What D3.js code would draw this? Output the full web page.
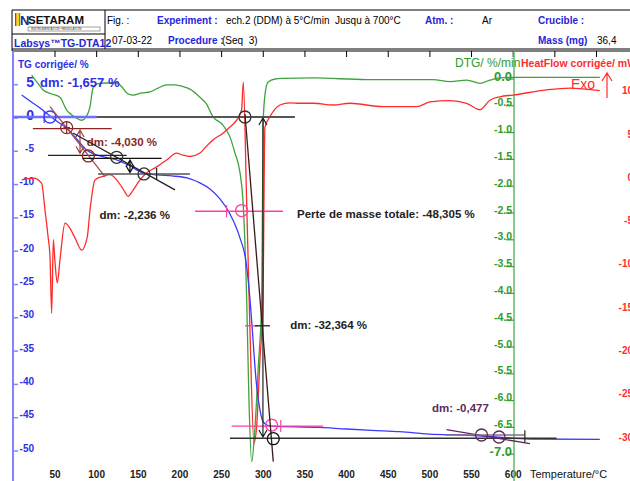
<!DOCTYPE html>
<html>
<head>
<meta charset="utf-8">
<script src="https://cdn.jsdelivr.net/npm/d3@7"></script>
<style>
  body { margin: 0; background: #fff; }
  svg { display: block; font-family: Arial, "Liberation Sans", sans-serif; }
</style>
</head>
<body>
<svg id="chart" width="630" height="481"></svg>
<script>
// TG (mass loss, %)
const tgTemp  = [10, 20, 32, 44, 53.5, 64, 74, 88, 104, 124, 140, 155.6, 172.4, 190.4, 208.4, 224, 236, 248, 260, 272, 279.3, 284.1, 287.7, 291.3, 296, 299.7, 304.4, 310.4, 368, 400, 430, 464, 503.7, 524, 564, 620, 704]
const tgValue = [3.45, 2.55, 1.5, 0.3, -0.6, -1.5, -2.85, -4.8, -5.7, -6.3, -7.2, -8.25, -8.55, -8.7, -9.0, -9.75, -10.65, -12.15, -14.4, -18.0, -21.6, -27.3, -33.3, -39.3, -43.8, -45.6, -46.1, -46.25, -46.45, -46.7, -46.9, -47.1, -47.5, -47.55, -47.75, -48.2, -48.25]

// DTG (%/min), green curve
const dtgTemp  = [22, 28.3, 35.5, 46.3, 55.9, 64, 70.3, 76, 82, 87.2, 92, 95.6, 100.4, 111.2, 124, 130.4, 136, 143.6, 154.4, 164, 173.6, 184, 194, 203.6, 212, 224, 231.2, 239.6, 251.6, 260, 266, 272.1, 275.6, 280.1, 282.8, 286.1, 290.1, 294, 298.1, 299.1, 300, 302, 305.6, 314, 323.6, 359.7, 424, 503.7, 524.2, 544.2, 560.2, 572.2, 584.2, 599.8, 620, 704]
const dtgValue = [0.07, -0.06, -0.2, -0.28, -0.34, -0.58, -0.67, -0.73, -0.77, -0.71, -0.52, -0.17, -0.09, -0.075, -0.075, -0.15, -0.26, -0.3, -0.26, -0.24, -0.17, -0.11, -0.11, -0.14, -0.19, -0.34, -0.45, -0.7, -0.86, -1.08, -1.38, -1.75, -2.26, -4.12, -5.99, -7.14, -6.49, -5.37, -4.12, -2.26, -0.77, -0.3, -0.06, 0.0, 0.01, 0.02, -0.01, -0.01, -0.05, -0.02, -0.08, -0.02, 0.02, 0.03, 0.03, 0.03]

// Heat flow (mW), red curve
const hfTemp  = [10, 24, 34, 38, 41.5, 44, 46, 48, 50, 52.7, 56, 62, 68, 74, 82, 88.7, 92, 98, 107.6, 116, 124, 130, 134, 137.6, 143.6, 152, 160, 172, 184, 196, 202.4, 212, 224, 230, 239.6, 251.6, 260, 268, 274, 276, 280, 284, 288.8, 292, 296, 299.6, 302, 308, 320, 332, 344, 360, 384, 404, 444, 484, 500, 524, 544, 560, 572, 584, 600, 640, 668, 704]
const hfValue = [-0.3, -0.1, -0.7, -3.8, -6.7, -9.2, -15.7, -7.2, -9.8, -12.2, -9.5, -5.3, -5.9, -7.0, -8.4, -6.9, -3.8, -0.3, 0.1, 0.3, -0.3, -1.1, -1.7, -2.2, -1.5, -0.3, 0.5, 1.2, 2.0, 2.8, 2.6, 2.4, 2.8, 3.4, 4.3, 5.1, 5.8, 6.6, 7.8, 11.0, -2.6, -17.6, -30.7, -28.8, -21.1, -14.2, 5.8, 7.0, 8.35, 8.6, 8.55, 8.55, 8.35, 8.55, 8.15, 8.15, 8.7, 8.85, 8.55, 7.8, 8.9, 9.3, 9.5, 10.1, 10.3, 10.0]

const tempTicks = [50, 100, 150, 200, 250, 300, 350, 400, 450, 500, 550, 600]
const topTicks = [50, 100, 150, 200, 250, 300, 350, 400, 450, 500, 550, 600, 650, 700]
const tgTicks = [5, 0, -5, -10, -15, -20, -25, -30, -35, -40, -45, -50]
const dtgTicks = [0, -0.5, -1, -1.5, -2, -2.5, -3, -3.5, -4, -4.5, -5, -5.5, -6, -6.5, -7]
const hfTicks = [10, 5, 0, -5, -10, -15, -20, -25, -30]

const BLUE = '#3a3aff'
const GREEN = '#3ea33e'
const RED = '#ff2b2b'
const DARKRED = '#8e2424'
const PURPLE = '#5c2a5c'
const PINK = '#ff40a0'
const GREY = '#555555'

const svg = d3.select('#chart')

const x = d3.scaleLinear().domain([50, 600]).range([55, 513.2])
const yTG = d3.scaleLinear().domain([0, -50]).range([118, 451])
const yDTG = d3.scaleLinear().domain([0, -7]).range([79, 454.2])
const yHF = d3.scaleLinear().domain([10, -30]).range([90.7, 437.1])

// ---------- header block ----------
function drawHeader () {
  const h = svg.append('g')
  h.append('line').attr('x1', 12).attr('x2', 630).attr('y1', 10).attr('y2', 10).attr('stroke', '#000')
  h.append('line').attr('x1', 12).attr('x2', 630).attr('y1', 49).attr('y2', 49).attr('stroke', '#000')
  h.append('line').attr('x1', 12).attr('x2', 630).attr('y1', 51).attr('y2', 51).attr('stroke', '#000')
  h.append('line').attr('x1', 12).attr('x2', 12).attr('y1', 10).attr('y2', 51).attr('stroke', '#000')
  h.append('line').attr('x1', 105).attr('x2', 105).attr('y1', 10).attr('y2', 49).attr('stroke', '#000')
  h.append('line').attr('x1', 12).attr('x2', 105).attr('y1', 34).attr('y2', 34).attr('stroke', '#000')

  // logo
  const stripes = ['#e0262a', '#f5a000', '#f2e200', '#28a745']
  stripes.forEach((c, i) => {
    h.append('rect').attr('x', 15 + i * 1.3).attr('y', 13).attr('width', 1.3).attr('height', 13).attr('fill', c)
  })
  h.append('text').attr('x', 20).attr('y', 25).attr('font-size', 13).attr('font-weight', 'bold')
    .attr('fill', '#1b2f86').text('N')
  h.append('text').attr('x', 28).attr('y', 24).attr('font-size', 11.5).attr('font-weight', 'bold')
    .attr('fill', '#111').text('SETARAM')
  h.append('rect').attr('x', 28).attr('y', 27).attr('width', 72).attr('height', 4)
    .attr('fill', 'none').attr('stroke', '#444').attr('stroke-width', 0.5)
  h.append('text').attr('x', 31).attr('y', 30.3).attr('font-size', 3).attr('fill', '#333')
    .text('INSTRUMENTATION • REGULATION')

  h.append('text').attr('x', 14).attr('y', 47).attr('font-size', 10.5).attr('font-weight', 'bold')
    .attr('fill', '#2828d0').text('Labsys™TG-DTA12')

  const row1 = [
    [107, 'Fig. :', '#000', 'normal'],
    [157, 'Experiment :', '#2424d8', 'bold'],
    [226, 'ech.2 (DDM) à 5°C/min  Jusqu à 700°C', '#000', 'normal'],
    [425, 'Atm. :', '#2424d8', 'bold'],
    [482, 'Ar', '#000', 'normal'],
    [538, 'Crucible :', '#2424d8', 'bold']
  ]
  row1.forEach(r => {
    h.append('text').attr('x', r[0]).attr('y', 24).attr('font-size', 10).attr('font-weight', r[3])
      .attr('fill', r[2]).style('white-space', 'pre').text(r[1])
  })
  const row2 = [
    [112, '07-03-22', '#000', 'normal'],
    [168, 'Procedure :', '#2424d8', 'bold'],
    [222, '(Seq  3)', '#000', 'normal'],
    [538, 'Mass (mg)', '#2424d8', 'bold'],
    [597, '36,4', '#000', 'normal']
  ]
  row2.forEach(r => {
    h.append('text').attr('x', r[0]).attr('y', 44).attr('font-size', 10).attr('font-weight', r[3])
      .attr('fill', r[2]).style('white-space', 'pre').text(r[1])
  })
}

// ---------- axes ----------
function drawAxes () {
  const g = svg.append('g')

  // top tick marks
  g.selectAll('.top-tick').data(topTicks).enter().append('line')
    .attr('x1', d => x(d)).attr('x2', d => x(d)).attr('y1', 51).attr('y2', 57)
    .attr('stroke', '#000')

  // temperature labels (bottom)
  g.selectAll('.x-label').data(tempTicks).enter().append('text')
    .attr('x', d => x(d)).attr('y', 478).attr('text-anchor', 'middle')
    .attr('font-size', 10).attr('font-weight', 'bold').attr('fill', '#222').text(d => d)
  g.append('text').attr('x', 530).attr('y', 478).attr('font-size', 11).attr('fill', '#111')
    .text('Temperature/°C')

  // TG axis (left, blue)
  g.append('line').attr('x1', 13).attr('x2', 13).attr('y1', 51).attr('y2', 481)
    .attr('stroke', '#8383ff').attr('stroke-width', 2)
  g.selectAll('.tg-tick').data(tgTicks).enter().append('line')
    .attr('x1', 13).attr('x2', 18).attr('y1', d => yTG(d)).attr('y2', d => yTG(d))
    .attr('stroke', '#8383ff').attr('stroke-width', 1.5)
  g.selectAll('.tg-label').data(tgTicks).enter().append('text')
    .attr('x', 34).attr('y', d => yTG(d) - 3).attr('dy', '0.35em').attr('text-anchor', 'end')
    .attr('font-size', d => d >= 0 ? 14 : 10).attr('font-weight', 'bold').attr('fill', '#2e2ee6')
    .text(d => d)
  g.append('text').attr('x', 18).attr('y', 68).attr('font-size', 10).attr('font-weight', 'bold')
    .attr('fill', '#2e2ee6').text('TG corrigée/ %')

  // DTG axis (green)
  g.append('line').attr('x1', 514).attr('x2', 514).attr('y1', 51).attr('y2', 481)
    .attr('stroke', '#63b863').attr('stroke-width', 1.5)
  g.selectAll('.dtg-tick').data(dtgTicks).enter().append('line')
    .attr('x1', 506).attr('x2', 514).attr('y1', d => yDTG(d)).attr('y2', d => yDTG(d))
    .attr('stroke', GREEN).attr('stroke-width', 1.2)
  g.selectAll('.dtg-label').data(dtgTicks).enter().append('text')
    .attr('x', 512).attr('y', d => yDTG(d) - 3).attr('dy', '0.35em').attr('text-anchor', 'end')
    .attr('font-size', d => (d === 0 || d === -7) ? 13 : 10.5).attr('font-weight', 'bold')
    .attr('fill', '#2f9a2f').text(d => d.toFixed(1))
  g.append('text').attr('x', 455).attr('y', 67).attr('font-size', 12)
    .attr('fill', '#2f9a2f').text('DTG/ %/min')

  // heat flow axis (red, cut at the right edge)
  g.selectAll('.hf-label').data(hfTicks).enter().append('text')
    .attr('x', 633).attr('y', d => yHF(d)).attr('dy', '0.35em').attr('text-anchor', 'end')
    .attr('font-size', 10).attr('font-weight', 'bold').attr('fill', RED).text(d => d)
  g.append('text').attr('x', 521).attr('y', 67).attr('font-size', 10.5).attr('font-weight', 'bold')
    .attr('fill', RED).text('HeatFlow corrigée/ mW')

  // Exo arrow
  g.append('text').attr('x', 571).attr('y', 89).attr('font-size', 14).attr('fill', RED).text('Exo')
  g.append('path').attr('d', 'M607,98 L607,73 M602,81 L607,73 L612,81')
    .attr('fill', 'none').attr('stroke', RED).attr('stroke-width', 1.2)
}

// ---------- curves ----------
function drawCurves () {
  const g = svg.append('g')
  const makeLine = (ys, temps, vals) => d3.line()
    .curve(d3.curveMonotoneX)
    .x((d, i) => x(temps[i]))
    .y((d, i) => ys(vals[i]))

  g.append('path').datum(dtgValue)
    .attr('fill', 'none').attr('stroke', GREEN).attr('stroke-width', 1.3)
    .attr('d', makeLine(yDTG, dtgTemp, dtgValue))

  g.append('path').datum(hfValue)
    .attr('fill', 'none').attr('stroke', RED).attr('stroke-width', 1.3)
    .attr('d', makeLine(yHF, hfTemp, hfValue))

  g.append('path').datum(tgValue)
    .attr('fill', 'none').attr('stroke', BLUE).attr('stroke-width', 1.3)
    .attr('d', makeLine(yTG, tgTemp, tgValue))
}

// ---------- step analysis marks (drawn in TG units) ----------
function drawAnnotations () {
  const g = svg.append('g')

  function seg (t1, v1, t2, v2, color, w) {
    g.append('line').attr('x1', x(t1)).attr('y1', yTG(v1)).attr('x2', x(t2)).attr('y2', yTG(v2))
      .attr('stroke', color).attr('stroke-width', w || 1.3)
  }
  function ring (t, v, color) {
    g.append('circle').attr('cx', x(t)).attr('cy', yTG(v)).attr('r', 6)
      .attr('fill', 'none').attr('stroke', color).attr('stroke-width', 1.3)
  }
  function vtick (t, v, color) {
    g.append('line').attr('x1', x(t)).attr('x2', x(t)).attr('y1', yTG(v) - 6).attr('y2', yTG(v) + 6)
      .attr('stroke', color).attr('stroke-width', 1.2)
  }
  function dblArrow (t, v1, v2, color) {
    const px = x(t), a = yTG(v1), b = yTG(v2)
    g.append('path')
      .attr('d', `M${px},${a} L${px},${b} M${px - 4},${a + 7} L${px},${a} L${px + 4},${a + 7} M${px - 4},${b - 7} L${px},${b} L${px + 4},${b - 7}`)
      .attr('fill', 'none').attr('stroke', color).attr('stroke-width', 1.2)
  }
  function label (t, v, txt, color, size) {
    g.append('text').attr('x', x(t)).attr('y', yTG(v)).attr('dy', '0.35em')
      .attr('font-size', size || 11.5).attr('font-weight', 'bold').attr('fill', color).text(txt)
  }

  // first step (blue)
  seg(20, 0.15, 338, 0.15, GREY, 2)
  seg(0, 0.15, 100, 0.15, '#6f6fff', 2.5)
  vtick(37, 0.15, BLUE)
  ring(44, 0.15, BLUE)
  label(32, 5.4, 'dm: -1,657 %', '#2e2ee6', 13)

  // second step (dark red)
  seg(23.5, -1.6, 118, -1.6, DARKRED)
  seg(41.5, -5.6, 136, -5.6, '#222')
  seg(44, 1.7, 110, -8.8, '#a05050')
  ring(64, -1.45, DARKRED)
  seg(60, -1.45, 68, -1.45, DARKRED)
  vtick(64, -1.45, DARKRED)
  ring(90, -5.7, DARKRED)
  dblArrow(80, -1.8, -5.3, '#a04040')
  label(88, -3.55, 'dm: -4,030 %', DARKRED, 11.5)

  // third step (black)
  seg(83.5, -6.05, 178, -6.05, '#111')
  seg(101.6, -8.4, 212, -8.4, GREY, 1.6)
  seg(71.5, -2.25, 194, -10.8, '#222')
  ring(124, -5.9, '#333')
  ring(156.8, -8.4, '#333')
  vtick(172, -8.4, '#222')
  dblArrow(140, -6.3, -8.2, '#111')
  label(103.5, -14.6, 'dm: -2,236 %', '#222', 11.5)

  // total mass loss (pink)
  seg(218, -14, 323.6, -14, PINK)
  vtick(256, -14, PINK)
  ring(274, -13.9, PINK)
  seg(262, -46.25, 372, -46.25, PINK)
  ring(310, -46.1, PINK)
  vtick(321, -46.25, PINK)
  seg(278, -31.2, 294, -31.2, PINK)
  label(340.5, -14.4, 'Perte de masse totale: -48,305 %', '#222', 11.5)

  // main step (black)
  seg(260, -48.1, 652, -48.1, '#333', 1.5)
  seg(278, 0.6, 312, -51.6, '#3a1a1a', 1.3)
  ring(278, 0.15, '#333')
  ring(312, -48.15, '#111')
  dblArrow(299.6, 0, -47.9, '#222')
  seg(290, -31.2, 308, -31.2, '#222')
  label(332.5, -31.1, 'dm: -32,364 %', '#222', 11.5)

  // last step (purple)
  seg(520, -46.8, 620, -48.9, PURPLE)
  seg(518, -47.6, 614, -47.6, '#8a6a8a')
  ring(562, -47.6, PURPLE)
  ring(583, -47.9, PURPLE)
  vtick(614, -47.8, '#222')
  label(502.5, -43.5, 'dm: -0,477', PURPLE, 11.5)
}

drawHeader()
drawAxes()
drawCurves()
drawAnnotations()
</script>
</body>
</html>
